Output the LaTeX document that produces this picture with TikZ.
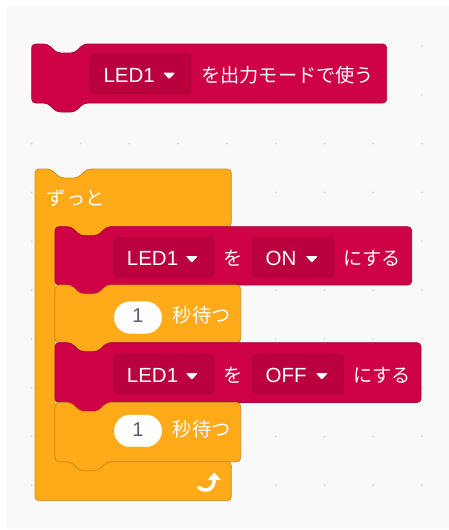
\documentclass[tikz,border=0pt]{standalone}
\usepackage{fontspec}
\setmainfont{Liberation Sans}
\newfontfamily\jpfont{Noto Sans CJK JP}
\usetikzlibrary{arrows.meta}
\definecolor{panel}{HTML}{F9F9F9}
\definecolor{dotc}{HTML}{DCDCDC}
\definecolor{blkred}{RGB}{206,0,70}
\definecolor{blkredline}{RGB}{168,0,56}
\definecolor{ddred}{RGB}{186,0,62}
\definecolor{ddline}{RGB}{148,0,48}
\definecolor{org}{HTML}{FFAB19}
\definecolor{orgline}{HTML}{CF8B17}
\definecolor{numtxt}{HTML}{575E75}
\tikzset{
  lat/.style={font=\fontsize{20.5}{24}\selectfont, text=white, inner sep=0pt, anchor=base west},
  jp/.style={font=\jpfont\fontsize{19.2}{24}\selectfont, text=white, inner sep=0pt, anchor=base west},
  num/.style={font=\fontsize{20}{24}\selectfont, text=numtxt, inner sep=0pt, anchor=base},
  redblk/.style={fill=blkred, draw=blkredline, line width=0.8pt, rounded corners=4pt},
  orgblk/.style={fill=org, draw=orgline, line width=0.8pt, rounded corners=4pt},
  ddbox/.style={fill=ddred, draw=ddline, line width=0.8pt, rounded corners=4pt},
  ovalbox/.style={fill=white, draw=white, rounded corners=15.8pt},
}
\newcommand\stackblk[5]{%
  \draw[#5] (#1,#2+#4/2) -- (#1,#2) -- (#1+16,#2) -- (#1+25,#2+9) -- (#1+43,#2+9) -- (#1+52,#2)
    -- (#1+#3,#2) -- (#1+#3,#2+#4) -- (#1+52,#2+#4) -- (#1+43,#2+#4+9) -- (#1+25,#2+#4+9)
    -- (#1+16,#2+#4) -- (#1,#2+#4) -- cycle;
}
\newcommand\ddown[6]{%
  \draw[ddbox] (#2,#3) rectangle (#4,#5);
  \pgfmathsetmacro\bl{(#3+#5)/2+8.5}
  \node[lat] (#1) at (#2+12.7,\bl) {#6};
  \fill[white, rounded corners=1pt] (#4-27.5,\bl-9.5) -- (#4-15.5,\bl-9.5) -- (#4-21.5,\bl-3) -- cycle;
}
\begin{document}
\begin{tikzpicture}[x=1pt,y=-1pt]
\useasboundingbox (0,0) rectangle (449,530);
\fill[white] (0,0) rectangle (449,530);
\fill[panel] (7,6) rectangle (449,529);
\foreach \i in {0,...,8} \foreach \j in {0,...,9}
  \fill[dotc] ({31.7+48.8*\i},{46+48.8*\j}) circle (1.1pt);

% top block
\stackblk{31.7}{44}{355}{59}{redblk}
\ddown{dd0}{90.7}{54}{190.7}{93.3}{LED1}
\node[jp] (t0) at (201,82.2) {を出力モードで使う};

% forever block
\draw[orgblk] (35,330) -- (35,169) -- (51,169) -- (60,178) -- (78,178) -- (87,169) -- (231.3,169)
  -- (231.3,226.7) -- (107,226.7) -- (98,235.7) -- (80,235.7) -- (71,226.7) -- (55,226.7)
  -- (55,461.7) -- (231.3,461.7) -- (231.3,500.7) -- (35,500.7) -- cycle;
\node[jp] (tf) at (46.7,205.5) {ずっと};
\draw[white, line width=3.6pt, line cap=round, -{Triangle[width=13pt,length=7.5pt]}]
  (198.8,487.5) .. controls (206,493) and (214.2,489) .. (214.2,472.5);

% red block 1
\stackblk{55}{226.7}{356.7}{58.3}{redblk}
\ddown{dd1}{114}{237.5}{213.3}{276.7}{LED1}
\node[jp] (o1) at (223,265.6) {を};
\ddown{dd2}{252.7}{237.5}{333.3}{276.7}{ON}
\node[jp] (s1) at (343,265.6) {にする};

% wait block 1
\stackblk{55}{285}{185.7}{57.7}{orgblk}
\draw[ovalbox] (114.3,301.7) rectangle (161.7,333.3);
\node[num] (n1) at (138,322.5) {1};
\node[jp] (w1) at (172.7,322.5) {秒待つ};

% red block 2
\stackblk{55}{342.7}{366}{59.8}{redblk}
\ddown{dd3}{114}{355}{213.3}{393.3}{LED1}
\node[jp] (o2) at (223,382.7) {を};
\ddown{dd4}{252.7}{355}{343.3}{393.3}{OFF}
\node[jp] (s2) at (353,382.7) {にする};

% wait block 2
\stackblk{55}{402.5}{185.7}{59.2}{orgblk}
\draw[ovalbox] (114.3,415) rectangle (161.7,446.7);
\node[num] (n2) at (138,436) {1};
\node[jp] (w2) at (172.7,436) {秒待つ};
\end{tikzpicture}
\end{document}
